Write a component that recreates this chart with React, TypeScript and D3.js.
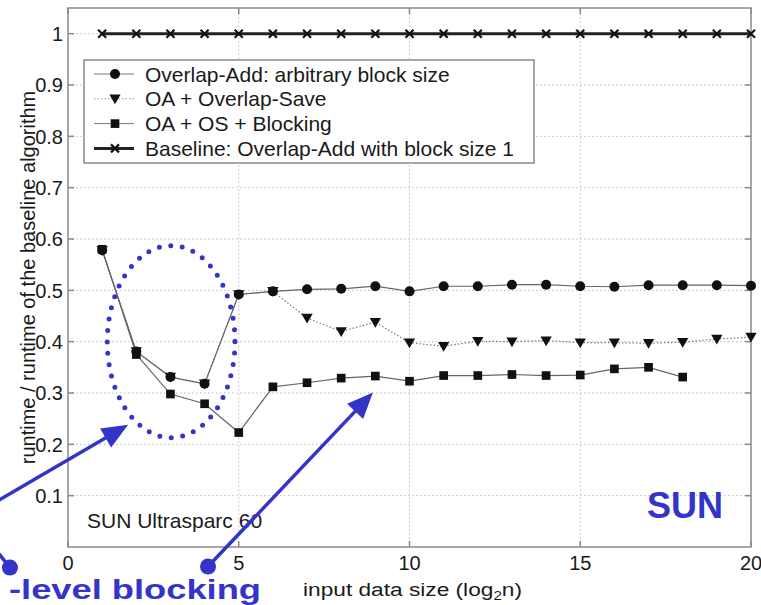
import { FC, useEffect, useRef } from 'react';
import * as d3 from 'd3';

// x = log2 of input size
const sizesOA = [1, 2, 3, 4, 5, 6, 7, 8, 9, 10, 11, 12, 13, 14, 15, 16, 17, 18, 19, 20];
const overlapAdd = [0.578, 0.381, 0.331, 0.318, 0.492, 0.498, 0.502, 0.503, 0.508, 0.498, 0.508, 0.508, 0.511, 0.511, 0.508, 0.507, 0.51, 0.51, 0.51, 0.509];
const overlapSave = [0.578, 0.381, 0.331, 0.318, 0.492, 0.498, 0.446, 0.42, 0.438, 0.398, 0.391, 0.401, 0.4, 0.402, 0.398, 0.398, 0.397, 0.399, 0.405, 0.409];
const sizesBlocking = [1, 2, 3, 4, 5, 6, 7, 8, 9, 10, 11, 12, 13, 14, 15, 16, 17, 18];
const blocking = [0.58, 0.375, 0.298, 0.279, 0.223, 0.312, 0.32, 0.329, 0.333, 0.323, 0.334, 0.334, 0.336, 0.334, 0.335, 0.347, 0.35, 0.331];
const baseline = [1, 1, 1, 1, 1, 1, 1, 1, 1, 1, 1, 1, 1, 1, 1, 1, 1, 1, 1, 1];

const xTicks = [0, 5, 10, 15, 20];
const yTicks = [0.1, 0.2, 0.3, 0.4, 0.5, 0.6, 0.7, 0.8, 0.9, 1];

const legendLabels = [
  'Overlap-Add: arbitrary block size',
  'OA + Overlap-Save',
  'OA + OS + Blocking',
  'Baseline: Overlap-Add with block size 1',
];

const BLUE = '#3434c8';
const FONT = "'Liberation Sans', Arial, sans-serif";

type Pt = [number, number];

const App: FC = () => {
  const svgRef = useRef<SVGSVGElement>(null);

  useEffect(() => {
    if (!svgRef.current) return;
    const svg = d3.select(svgRef.current);
    svg.selectAll('*').remove();

    const x = d3.scaleLinear().domain([0, 20]).range([68, 751]);
    const y = d3.scaleLinear().domain([0, 1.05]).range([547, 8]);
    const [x0, x1] = x.range();
    const [y0, y1] = y.range();

    // grid
    const grid = svg.append('g').attr('stroke', '#bbb').attr('stroke-width', 1).attr('stroke-dasharray', '1.5 2.5');
    xTicks.filter(t => t > 0 && t < 20).forEach(t => {
      grid.append('line').attr('x1', x(t)).attr('x2', x(t)).attr('y1', y0).attr('y2', y1);
    });
    yTicks.forEach(t => {
      grid.append('line').attr('x1', x0).attr('x2', x1).attr('y1', y(t)).attr('y2', y(t));
    });

    // frame + inward ticks (matlab style)
    const frame = svg.append('g').attr('stroke', '#8a8a8a').attr('stroke-width', 1.5).attr('fill', 'none');
    frame.append('rect').attr('x', x0).attr('y', y1).attr('width', x1 - x0).attr('height', y0 - y1);
    xTicks.forEach(t => {
      frame.append('line').attr('x1', x(t)).attr('x2', x(t)).attr('y1', y0).attr('y2', y0 - 6);
      frame.append('line').attr('x1', x(t)).attr('x2', x(t)).attr('y1', y1).attr('y2', y1 + 6);
    });
    yTicks.forEach(t => {
      frame.append('line').attr('x1', x0).attr('x2', x0 + 6).attr('y1', y(t)).attr('y2', y(t));
      frame.append('line').attr('x1', x1).attr('x2', x1 - 6).attr('y1', y(t)).attr('y2', y(t));
    });

    // tick labels
    svg.append('g').selectAll('text').data(xTicks).enter().append('text')
      .attr('x', d => x(d)).attr('y', 569.5)
      .attr('text-anchor', 'middle').attr('font-family', FONT).attr('font-size', 20).attr('fill', '#1a1a1a')
      .text(d => d);
    svg.append('g').selectAll('text').data(yTicks).enter().append('text')
      .attr('x', 63).attr('y', d => y(d)).attr('dy', '0.36em')
      .attr('text-anchor', 'end').attr('font-family', FONT).attr('font-size', 20).attr('fill', '#1a1a1a')
      .text(d => d);

    // axis labels
    svg.append('text')
      .attr('transform', `translate(35,${(y0 + y1) / 2}) rotate(-90)`)
      .attr('text-anchor', 'middle').attr('font-family', FONT).attr('font-size', 20).attr('fill', '#1a1a1a')
      .text('runtime / runtime of the baseline algorithm');
    const xl = svg.append('text')
      .attr('x', 303).attr('y', 596).attr('textLength', 219).attr('lengthAdjust', 'spacingAndGlyphs')
      .attr('font-family', FONT).attr('font-size', 18).attr('fill', '#1a1a1a');
    xl.append('tspan').text('input data size (log');
    xl.append('tspan').attr('font-size', 12).attr('dy', 4).text('2');
    xl.append('tspan').attr('dy', -4).text('n)');

    // series lines
    const line = d3.line<Pt>().x(d => x(d[0])).y(d => y(d[1]));
    const oaPts: Pt[] = sizesOA.map((s, i) => [s, overlapAdd[i]]);
    const osPts: Pt[] = sizesOA.map((s, i) => [s, overlapSave[i]]);
    const blPts: Pt[] = sizesBlocking.map((s, i) => [s, blocking[i]]);
    const basePts: Pt[] = sizesOA.map((s, i) => [s, baseline[i]]);

    svg.append('path').attr('d', line(osPts)).attr('fill', 'none').attr('stroke', '#777').attr('stroke-width', 1.2).attr('stroke-dasharray', '1.5 2');
    svg.append('path').attr('d', line(oaPts)).attr('fill', 'none').attr('stroke', '#666').attr('stroke-width', 1.2);
    svg.append('path').attr('d', line(blPts)).attr('fill', 'none').attr('stroke', '#666').attr('stroke-width', 1.2);
    svg.append('path').attr('d', line(basePts)).attr('fill', 'none').attr('stroke', '#222').attr('stroke-width', 3);

    const tri = d3.symbol().type(d3.symbolTriangle).size(55)();
    const sq = d3.symbol().type(d3.symbolSquare).size(75)();
    const xMark = 'M-4,-4L4,4M-4,4L4,-4';

    svg.append('g').selectAll('path').data(osPts).enter().append('path')
      .attr('d', tri).attr('fill', '#111')
      .attr('transform', d => `translate(${x(d[0])},${y(d[1]) - 1}) rotate(180)`);
    svg.append('g').selectAll('circle').data(oaPts).enter().append('circle')
      .attr('cx', d => x(d[0])).attr('cy', d => y(d[1])).attr('r', 5).attr('fill', '#111');
    svg.append('g').selectAll('path').data(blPts).enter().append('path')
      .attr('d', sq).attr('fill', '#111')
      .attr('transform', d => `translate(${x(d[0])},${y(d[1])})`);
    svg.append('g').selectAll('path').data(basePts).enter().append('path')
      .attr('d', xMark).attr('stroke', '#111').attr('stroke-width', 2.2)
      .attr('transform', d => `translate(${x(d[0])},${y(d[1])})`);

    // legend
    const lg = svg.append('g');
    lg.append('rect').attr('x', 84).attr('y', 60).attr('width', 450).attr('height', 103)
      .attr('fill', 'white').attr('stroke', '#8a8a8a').attr('stroke-width', 1.5);
    legendLabels.forEach((label, i) => {
      const ly = 74 + i * 24.8;
      const row = lg.append('g').attr('transform', `translate(0,${ly})`);
      const l = row.append('line').attr('x1', 94).attr('x2', 134).attr('y1', 0).attr('y2', 0);
      if (i === 3) l.attr('stroke', '#222').attr('stroke-width', 3);
      else if (i === 1) l.attr('stroke', '#999').attr('stroke-width', 1).attr('stroke-dasharray', '1.5 2');
      else l.attr('stroke', '#777').attr('stroke-width', 1);
      if (i === 0) row.append('circle').attr('cx', 115).attr('r', 5).attr('fill', '#111');
      if (i === 1) row.append('path').attr('d', tri).attr('fill', '#111').attr('transform', 'translate(115,-1) rotate(180)');
      if (i === 2) row.append('path').attr('d', sq).attr('fill', '#111').attr('transform', 'translate(115,0)');
      if (i === 3) row.append('path').attr('d', xMark).attr('stroke', '#111').attr('stroke-width', 2.2).attr('transform', 'translate(115,0)');
      row.append('text').attr('x', 145).attr('dy', '0.36em')
        .attr('font-family', FONT).attr('font-size', 21).attr('fill', '#1a1a1a').text(label);
    });

    svg.append('text').attr('x', 87).attr('y', 528)
      .attr('font-family', FONT).attr('font-size', 21).attr('fill', '#1a1a1a').text('SUN Ultrasparc 60');

    // blue annotations (anchored in data coordinates)
    const ann = svg.append('g');
    const ellipseC: Pt = [3.02, 0.4];
    const rx = x(ellipseC[0] + 1.87) - x(ellipseC[0]);
    const ry = y(ellipseC[1]) - y(ellipseC[1] + 0.187);
    ann.append('ellipse').attr('cx', x(ellipseC[0])).attr('cy', y(ellipseC[1])).attr('rx', rx).attr('ry', ry)
      .attr('fill', 'none').attr('stroke', BLUE).attr('stroke-width', 5)
      .attr('stroke-linecap', 'round').attr('stroke-dasharray', '0 11.5');

    const arrow = (from: Pt, to: Pt, head: boolean) => {
      const fx = x(from[0]), fy = y(from[1]), tx = x(to[0]), ty = y(to[1]);
      const ang = Math.atan2(ty - fy, tx - fx);
      const hl = head ? 26 : 0;
      ann.append('line').attr('x1', fx).attr('y1', fy)
        .attr('x2', tx - Math.cos(ang) * hl * 0.8).attr('y2', ty - Math.sin(ang) * hl * 0.8)
        .attr('stroke', BLUE).attr('stroke-width', 3.5);
      if (head) {
        const hw = 11;
        const bx = tx - Math.cos(ang) * hl, by = ty - Math.sin(ang) * hl;
        const px = -Math.sin(ang) * hw, py = Math.cos(ang) * hw;
        ann.append('path')
          .attr('d', `M${tx},${ty}L${bx + px},${by + py}L${bx - px},${by - py}Z`)
          .attr('fill', BLUE);
      }
    };
    arrow([-2.5, 0.073], [1.76, 0.238], true);
    arrow([-2.3, 0.01], [-1.7, -0.04], false);
    arrow([4.1, -0.038], [8.93, 0.301], true);
    ann.append('circle').attr('cx', x(-1.7)).attr('cy', y(-0.04)).attr('r', 8).attr('fill', BLUE);
    ann.append('circle').attr('cx', x(4.1)).attr('cy', y(-0.038)).attr('r', 8).attr('fill', BLUE);

    svg.append('text').attr('x', 647).attr('y', 518)
      .attr('font-family', FONT).attr('font-size', 36).attr('font-weight', 'bold').attr('fill', BLUE).text('SUN');
    svg.append('text').attr('x', 9).attr('y', 599)
      .attr('textLength', 252).attr('lengthAdjust', 'spacingAndGlyphs')
      .attr('font-family', FONT).attr('font-size', 28).attr('font-weight', 'bold').attr('fill', BLUE).text('-level blocking');
  }, []);

  return (
    <svg ref={svgRef} width={761} height={605}
      style={{ position: 'absolute', left: 0, top: 0, background: 'white' }} />
  );
};

export default App;
